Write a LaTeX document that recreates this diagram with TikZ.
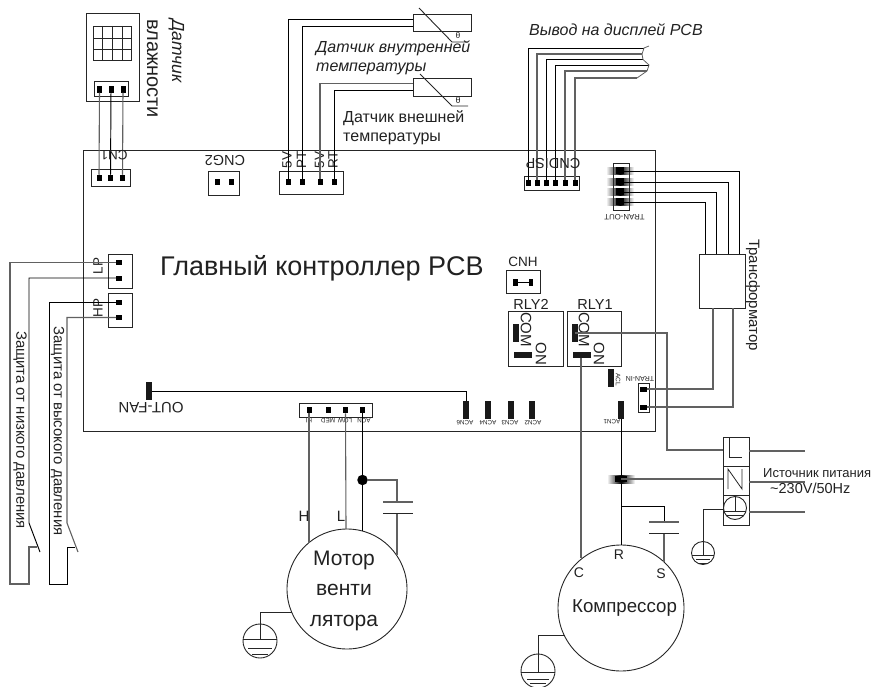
\documentclass[tikz,border=0pt]{standalone}
\usepackage{fontspec}
\setmainfont{Liberation Sans}
\newcommand{\fz}[1]{\fontsize{#1}{#1}\selectfont}
\definecolor{wg}{gray}{0.38}
\definecolor{tx}{gray}{0.13}
\tikzset{
  wire/.style={draw=black,line width=0.95pt},
  gwire/.style={draw=wg,line width=1.1pt},
  frame/.style={draw=black!85,line width=0.9pt},
  boxn/.style={draw=black!85,line width=0.9pt,inner sep=0pt,outer sep=0pt,rectangle},
  pinbox/.style={fill=black,inner sep=0pt,outer sep=0pt,minimum width=5pt,minimum height=6.5pt,rectangle},
  vbar/.style={fill=black!90,inner sep=0pt,outer sep=0pt,minimum width=6pt,minimum height=18pt,rectangle},
  hbar/.style={fill=black!90,inner sep=0pt,outer sep=0pt,minimum width=18pt,minimum height=6pt,rectangle},
  lab/.style={text=tx,inner sep=0pt,font=\fz{#1}},
  lab/.default=13,
  roundn/.style={draw=black!85,line width=0.9pt,circle,inner sep=0pt,outer sep=0pt},
  blurh/.style={left color=white,right color=white,middle color=black,draw=none}
}
\begin{document}
\begin{tikzpicture}[x=1pt,y=-1pt]
\useasboundingbox (0,0) rectangle (891,687);
\clip (0,0) rectangle (891,687);
% board
\node[boxn,anchor=north west,minimum width=572pt,minimum height=281pt] (board) at (83,150) {};
\node[lab=27] (title) at (322,268) {Главный контроллер PCB};

% humidity sensor
\node[boxn,anchor=north west,minimum width=53pt,minimum height=88pt] (hs) at (86,13) {};
\node[boxn,anchor=north west,minimum width=38pt,minimum height=34pt] (hgrid) at (93,26) {};
\draw[frame] (102.5,26)--(102.5,60) (112,26)--(112,60) (122,26)--(122,60) (93,38.5)--(131,38.5) (93,49.5)--(131,49.5);
\node[boxn,anchor=north west,minimum width=34pt,minimum height=15pt] (hconn) at (94,81) {};
\node[pinbox] (hp1) at (99.5,89.5) {};
\node[pinbox] (hp2) at (111,89.5) {};
\node[pinbox] (hp3) at (123,89.5) {};
\node[lab=18,rotate=-90,anchor=west,align=left] (hlab) at (165.5,19) {{\fz{17.5}\itshape Датчик}\\[7pt]{\fz{20}влажности}};
\node[boxn,anchor=north west,minimum width=39pt,minimum height=17pt] (cn1) at (91,169) {};
\node[pinbox] (c1) at (99,178) {};
\node[pinbox] (c2) at (110.5,178) {};
\node[pinbox] (c3) at (122.5,178) {};
\draw[gwire] (hp1) -- (c1);
\draw[wire] (hp2) -- (c2);
\draw[gwire] (hp3) -- (c3);
\node[lab=13.5,rotate=180] (cn1l) at (114,155.5) {CN1};

% CNG2
\node[boxn,anchor=north west,minimum width=31pt,minimum height=24pt] (cng) at (208,171) {};
\node[pinbox] (g1) at (217,182) {};
\node[pinbox] (g2) at (231,182) {};
\node[lab=14.5,rotate=180] (cngl) at (225,160) {CNG2};

% temperature sensors
\node[boxn,anchor=north west,minimum width=64pt,minimum height=23pt] (tc) at (279,171) {};
\node[pinbox] (t1) at (288,182) {};
\node[pinbox] (t2) at (302,182) {};
\node[pinbox] (t3) at (320,182) {};
\node[pinbox] (t4) at (334.5,182) {};
\node[lab=13.5,rotate=90] at (287,160) {5V};
\node[lab=13.5,rotate=90] at (301.5,160) {PT};
\node[lab=13.5,rotate=90] at (319.5,160) {5V};
\node[lab=13.5,rotate=90] at (333,160) {RT};
\node[boxn,anchor=north west,minimum width=58pt,minimum height=17pt] (s1) at (413,14) {};
\node[boxn,anchor=north west,minimum width=58pt,minimum height=18pt] (s2) at (413,78) {};
\coordinate (s1a) at (413,19);
\coordinate (s1b) at (413,26);
\coordinate (s2a) at (413,83.5);
\coordinate (s2b) at (413,90.5);
\draw[wire] (t1) |- (s1a);
\draw[wire] (t2) |- (s1b);
\draw[gwire] (t3) |- (s2a);
\draw[wire] (t4) |- (s2b);
\draw[frame] (419,8)--(452,42)--(468,42);
\draw[frame] (420,74)--(452,106)--(468,106);
\node[lab=8.5] at (458,35.5) {θ};
\node[lab=9] at (458,100.5) {θ};
\node[lab=16,anchor=west,align=left,font=\fz{16}\itshape] (s1l) at (316,57.5) {Датчик внутренней\\[2.5pt]температуры};
\node[lab=16,anchor=west,align=left] (s2l) at (343,127.5) {Датчик внешней\\[3pt]температуры};

% display
\node[lab=16,anchor=west,font=\fz{16}\itshape] (dl) at (529,30) {Вывод на дисплей PCB};
\node[boxn,anchor=north west,minimum width=55pt,minimum height=14pt] (dc) at (524.5,176) {};
\foreach \n/\x in {1/528,2/537,3/546,4/555.5,5/565,6/575}{\node[pinbox] (d\n) at (\x,183) {};}
\coordinate (e1) at (644,48);
\coordinate (e2) at (642,54);
\coordinate (e3) at (643,59.5);
\coordinate (e4) at (649,65);
\coordinate (e5) at (647,71);
\coordinate (e6) at (637,78);
\draw[wire] (d1) |- (e1);
\draw[gwire] (d2) |- (e2);
\draw[wire] (d3) |- (e3);
\draw[wire] (d4) |- (e4);
\draw[gwire] (d5) |- (e5);
\draw[gwire] (d6) |- (e6);
\draw[gwire,line width=0.8pt] (649,46)--(e1)--(e2)--(e3)--(e4)--(e5)--(e6);
\node[lab=14.5,rotate=180] (dcl) at (553,163) {CNDISP};

% TRAN-OUT
\foreach \y in {171,182,192,202}{\shade[blurh] (606,{\y-3.5}) rectangle (634,{\y+3.5});}
\node[boxn,anchor=north west,minimum width=16pt,minimum height=47pt] (to) at (613,163) {};
\node[fill=black,inner sep=0pt,minimum width=8pt,minimum height=7pt] (to1) at (620,171) {};
\node[fill=black,inner sep=0pt,minimum width=8pt,minimum height=7pt] (to2) at (620,182) {};
\node[fill=black,inner sep=0pt,minimum width=8pt,minimum height=7pt] (to3) at (620,192) {};
\node[fill=black,inner sep=0pt,minimum width=8pt,minimum height=7pt] (to4) at (620,202) {};
\node[lab=7.8,rotate=180] (tol) at (624.5,217) {TRAN-OUT};
% transformer
\node[boxn,anchor=north west,minimum width=46pt,minimum height=54pt] (tr) at (699,254) {};
\coordinate (tr1) at (739,254);
\coordinate (tr2) at (728,254);
\coordinate (tr3) at (716,254);
\coordinate (tr4) at (705,254);
\coordinate (tr5) at (713,308);
\coordinate (tr6) at (733,308);
\draw[wire] (to1) -| (tr1);
\draw[wire] (to2) -| (tr2);
\draw[wire] (to3) -| (tr3);
\draw[wire] (to4) -| (tr4);
\node[lab=15,rotate=-90] (trl) at (753,295) {Трансформатор};
% TRAN-IN
\node[boxn,anchor=north west,minimum width=11pt,minimum height=29pt] (ti) at (638,383) {};
\node[fill=black,inner sep=0pt,minimum width=7pt,minimum height=5pt] (ti1) at (643.5,389) {};
\node[fill=black,inner sep=0pt,minimum width=7pt,minimum height=5pt] (ti2) at (643.5,407) {};
\draw[gwire] (tr5) |- (ti1);
\draw[gwire] (tr6) |- (ti2);
\node[lab=7,rotate=180] (til) at (640,378.5) {TRAN-IN};

% CNH
\node[boxn,anchor=north west,minimum width=34pt,minimum height=23pt] (cnh) at (506,270) {};
\node[fill=black,inner sep=0pt,minimum width=5pt,minimum height=7pt] (h1) at (515.5,282) {};
\node[fill=black,inner sep=0pt,minimum width=4pt,minimum height=7pt] (h2) at (531,282) {};
\draw[wire] (h1) -- (h2);
\node[lab=13.5] (cnhl) at (523,262) {CNH};

% relays
\node[boxn,anchor=north west,minimum width=55pt,minimum height=55pt] (r2) at (508,311) {};
\node[boxn,anchor=north west,minimum width=54pt,minimum height=55pt] (r1) at (567,311) {};
\node[lab=14.5] at (531,304.5) {RLY2};
\node[lab=14.5] at (595,304.5) {RLY1};
\node[lab=15,rotate=-90] at (526,329.5) {COM};
\node[lab=15,rotate=-90] at (584,329.5) {COM};
\node[lab=15,rotate=-90] at (541,354) {ON};
\node[lab=15,rotate=-90] at (599,354) {ON};
\node[vbar] (r2c) at (516,333) {};
\node[hbar] (r2o) at (523,355) {};
\node[vbar] (r1c) at (575,333) {};
\node[hbar] (r1o) at (582,355) {};

% ACN pins
\node[vbar] (acl) at (610.5,378) {};
\node[lab=6.5,rotate=-90] at (618,379.5) {ACL};
\node[vbar] (a1) at (621,409.5) {};
\node[lab=6.3,rotate=180] at (612,422) {ACN1};
\node[vbar] (a2) at (532,409.5) {};
\node[lab=6.3,rotate=180] at (533,422.5) {ACN2};
\node[vbar] (a3) at (511,409.5) {};
\node[lab=6.3,rotate=180] at (510,422.5) {ACN3};
\node[vbar] (a4) at (488,409.5) {};
\node[lab=6.3,rotate=180] at (488,422.5) {ACN4};
\node[vbar] (a6) at (466,409.5) {};
\node[lab=6.3,rotate=180] at (465,422.5) {ACN6};
\node[vbar] (ofan) at (149,391) {};
\node[lab=15,rotate=180] (ofl) at (151,408) {OUT-FAN};
\draw[wire] (ofan) -| (a6);

% fan connector
\node[boxn,anchor=north west,minimum width=73pt,minimum height=14pt] (fc) at (299,403) {};
\node[pinbox] (f1) at (309,410) {};
\node[pinbox] (f2) at (328,410) {};
\node[pinbox] (f3) at (345.5,410) {};
\node[pinbox] (f4) at (362.5,410) {};
\node[lab=6.3,rotate=180] at (309,420.5) {HI};
\node[lab=6.3,rotate=180] at (328,420.5) {MED};
\node[lab=6.3,rotate=180] at (345,420.5) {LOW};
\node[lab=6.3,rotate=180] at (364,420.5) {ACN};

% fan motor
\node[roundn,minimum size=120pt] (motor) at (347,589) {};
\node[lab=21,align=center] (motl) at (344,590.5) {Мотор\\[9.5pt]венти\\[9.5pt]лятора};
\coordinate (mH) at (309,543);
\coordinate (mL) at (346,529);
\coordinate (mN) at (362.5,531);
\coordinate (mC) at (397,555);
\draw[gwire] (f1) -- (mH);
\draw[gwire] (f3) -- (mL);
\node[circle,fill=black,inner sep=0pt,minimum size=10.5pt] (dot) at (362.5,480) {};
\draw[wire] (f4) -- (dot);
\draw[wire] (dot) -- (mN);
\coordinate (fc1) at (397,502);
\coordinate (fc2) at (397,513);
\draw[gwire] (dot) -| (fc1);
\draw[gwire] (fc2) -- (mC);
\draw[gwire] (383,502)--(413,502);
\draw[frame] (383,513)--(413,513);
\node[lab=15] at (304,516) {H};
\node[lab=15] at (341,516) {L};

% motor ground
\node[roundn,minimum size=34pt] (g1c) at (260,641) {};
\coordinate (mg) at (292,612);
\draw[frame] (mg) -| (g1c.north);
\draw[frame] (260,624)--(260,639.5) (243,639.5)--(277,639.5) (248,648)--(272,648) (252,654)--(268,654);

% compressor
\node[roundn,minimum size=126pt] (comp) at (621,608) {};
\node[lab=18.7] (compl) at (624.5,608) {Компрессор};
\node[lab=14] at (579,573) {C};
\node[lab=14] at (619,555) {R};
\node[lab=14] at (661,574) {S};
\coordinate (cC) at (581,558);
\coordinate (cS) at (664,562);
\coordinate (jn) at (621,479);
\coordinate (jc) at (621,506);
\coordinate (pc1) at (664,522);
\coordinate (pc2) at (664,533);
\draw[wire] (a1) -- (comp.north);
\draw[gwire] (r1o.south -| cC) -- (cC);
\shade[blurh] (607,475) rectangle (635,483);
\node[fill=black,inner sep=0pt,minimum width=12pt,minimum height=6pt] (jblur) at (621,479) {};
\draw[wire] (jc) -| (pc1);
\draw[gwire] (pc2) -- (cS);
\draw[gwire] (649,522)--(679,522);
\draw[frame] (649,533)--(679,533);
% compressor ground
\node[roundn,minimum size=34pt] (g2c) at (538,671) {};
\coordinate (cg) at (565,635);
\draw[frame] (cg) -| (g2c.north);
\draw[frame] (538,654)--(538,672) (521,672)--(555,672) (527,679)--(549,679) (530,683)--(546,683);

% terminal block
\node[boxn,anchor=north west,minimum width=26pt,minimum height=88pt] (tb) at (723,437) {};
\draw[frame] (723,466)--(749,466) (723,495)--(749,495);
\draw[frame,line width=0.8pt] (729,438)--(729,457)--(742,457);
\draw[frame,line width=0.8pt] (728,489)--(728,469)--(742,489)--(742,469);
\node[roundn,minimum size=23pt] (tg) at (735,508) {};
\draw[frame] (735,496.5)--(735,511) (724,511)--(746,511) (727,515)--(743,515);
\coordinate (tL) at (723,450);
\coordinate (tN) at (723,479);
\coordinate (tE) at (723,509);
\coordinate (oL) at (805,451);
\coordinate (oN) at (805,482);
\coordinate (oE) at (805,512);
\draw[gwire] (r1c.center) -- (r1c.center -| 667,0) coordinate (cm) -- (cm |- tL) -- (tL);
\draw[gwire] (jn) -- (tN);
\draw[gwire] (749,451) -- (oL);
\draw[gwire] (749,482) -- (oN);
\draw[gwire] (749,512) -- (oE);
\node[lab=13,align=left,anchor=west] (srcl) at (763,481) {Источник питания\\[3pt]\hspace*{7pt}{\fz{14.5}\textasciitilde230V/50Hz}};
% supply ground
\node[roundn,minimum size=23pt] (g3c) at (703,553) {};
\draw[frame] (tE) -| (g3c.north);
\draw[frame] (703,542)--(703,555) (692,555)--(714,555) (696,559)--(710,559) (699,563)--(707,563);

% pressure
\node[boxn,anchor=north west,minimum width=24pt,minimum height=34pt] (lp) at (108,254) {};
\node[boxn,anchor=north west,minimum width=24pt,minimum height=34pt] (hp) at (108,293) {};
\node[pinbox,minimum width=6pt,minimum height=5pt] (l1) at (119,262.5) {};
\node[pinbox,minimum width=6pt,minimum height=5pt] (l2) at (119,278) {};
\node[pinbox,minimum width=6pt,minimum height=5pt] (h3) at (119,302) {};
\node[pinbox,minimum width=6pt,minimum height=5pt] (h4) at (119,317.5) {};
\node[lab=13.5,rotate=90] at (98,266) {LP};
\node[lab=13.5,rotate=90] at (98,308) {HP};
\draw[gwire] (l1) -- (10,262.5) -- (10,584) -- (29,584) -- (29,547) -- (37,547);
\draw[wire] (l2) -- (29,278) -- (29,523) -- (40,552);
\draw[wire] (h3) -- (49,302) -- (49,584) -- (67,584) -- (67,547) -- (75,547);
\draw[gwire] (h4) -- (67,317.5) -- (67,523) -- (78,552);
\node[lab=14.9,rotate=-90] (lpl) at (20,430) {Защита от низкого давления};
\node[lab=14.9,rotate=-90] (hpl) at (57.5,431) {Защита от высокого давления};
\end{tikzpicture}
\end{document}
